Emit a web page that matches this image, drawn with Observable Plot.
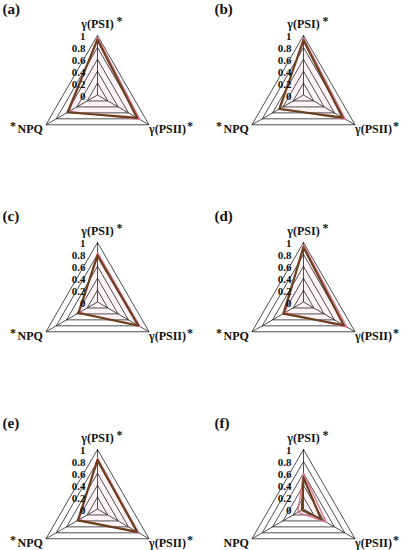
<!DOCTYPE html>
<html>
<head>
<meta charset="utf-8">
<script src="https://cdn.jsdelivr.net/npm/d3@7"></script>
<script src="https://cdn.jsdelivr.net/npm/@observablehq/plot@0.6"></script>
<style>
  html, body { margin: 0; padding: 0; background: #fff; }
  #chart { width: 403px; height: 550px; }
</style>
</head>
<body>
<div id="chart"></div>
<script>
// ---- data ----
const panels = ["a", "b", "c", "d", "e", "f"];
const panelCol = [0, 1, 0, 1, 0, 1];
const panelRow = [0, 0, 1, 1, 2, 2];
const axisNames = ["γ(PSI)", "γ(PSII)", "NPQ"];
const axisAngles = [90, -30, 210];
const brownPSI  = [0.93, 0.92, 0.78, 0.92, 0.82, 0.53];
const brownPSII = [0.77, 0.76, 0.79, 0.78, 0.77, 0.34];
const brownNPQ  = [0.58, 0.47, 0.37, 0.39, 0.38, 0.03];
const pinkPSI   = [0.97, 0.96, 0.83, 0.96, 0.86, 0.60];
const pinkPSII  = [0.82, 0.81, 0.83, 0.84, 0.80, 0.44];
const pinkNPQ   = [0.55, 0.45, 0.35, 0.36, 0.36, 0.11];
const sigPSI  = [true, true, true, true, true, true];
const sigPSII = [true, true, true, true, true, true];
const sigNPQ  = [true, true, true, true, true, false];
const levels = [0, 0.2, 0.4, 0.6, 0.8, 1];
const tickLabels = ["0", "0.2", "0.4", "0.6", "0.8", "1"];

// ---- derived tables ----
const rad = a => a * Math.PI / 180;
const px = (r, k) => r * Math.cos(rad(axisAngles[k]));
const py = (r, k) => r * Math.sin(rad(axisAngles[k]));

const grid = [];
const spokes = [];
const ticks = [];
const labels = [];
const series = [];
panels.forEach((p, i) => {
  const fx = panelCol[i], fy = panelRow[i];
  levels.filter(l => l > 0).forEach(l => {
    [0, 1, 2, 0].forEach(k => grid.push({fx, fy, key: p + l, x: px(l, k), y: py(l, k)}));
  });
  axisNames.forEach((n, k) => {
    spokes.push({fx, fy, x2: px(1, k), y2: py(1, k)});
    const sig = [sigPSI, sigPSII, sigNPQ][k][i];
    labels.push({fx, fy, k, name: n, sig, x: px(1, k), y: py(1, k)});
  });
  levels.forEach((l, j) => ticks.push({fx, fy, y: l, text: tickLabels[j]}));
  const sets = [
    ["brown", [brownPSI[i], brownPSII[i], brownNPQ[i]]],
    ["pink", [pinkPSI[i], pinkPSII[i], pinkNPQ[i]]]
  ];
  sets.forEach(([s, vals]) => {
    [0, 1, 2, 0].forEach(k => series.push({fx, fy, s, key: p + s, x: px(vals[k], k), y: py(vals[k], k)}));
  });
});
const panelLabels = panels.map((p, i) => ({fx: panelCol[i], fy: panelRow[i], text: "(" + p + ")"}));

const font = "'Liberation Serif', 'Times New Roman', serif";
const txt = {fontSize: 12, fontWeight: "bold", fill: "#111", fontFamily: font};
const tickTxt = {fontSize: 11, fontWeight: "bold", fill: "#111", fontFamily: font};
const panelTxt = {frameAnchor: "top-left", text: "text", dy: 3, textAnchor: "start", lineAnchor: "top", fontSize: 15, fontWeight: "bold", fill: "#111", fontFamily: font};

const chart = Plot.plot({
  width: 403,
  height: 550,
  marginLeft: 0,
  marginRight: 3,
  marginTop: 0,
  marginBottom: 0,
  x: {domain: [-1.63, 1.63], axis: null},
  y: {domain: [-0.697, 1.588], axis: null},
  fx: {axis: null, domain: [0, 1], paddingInner: 12 / 206, paddingOuter: 0},
  fy: {axis: null, domain: [0, 1, 2], paddingInner: 0.343, paddingOuter: 0},
  style: {fontFamily: font, background: "#fff"},
  marks: [
    Plot.line(series.filter(d => d.s === "pink"), {
      x: "x", y: "y", z: "key", fx: "fx", fy: "fy",
      fill: "#f4a6be", fillOpacity: 0.13, stroke: "none"
    }),
    Plot.line(grid, {x: "x", y: "y", z: "key", fx: "fx", fy: "fy", stroke: "#222", strokeWidth: 0.8}),
    Plot.link(spokes, {x1: 0, y1: 0, x2: "x2", y2: "y2", fx: "fx", fy: "fy", stroke: "#222", strokeWidth: 0.8}),
    Plot.line(series.filter(d => d.s === "pink"), {
      x: "x", y: "y", z: "key", fx: "fx", fy: "fy", stroke: "#e0708f", strokeWidth: 1.3
    }),
    Plot.line(series.filter(d => d.s === "brown"), {
      x: "x", y: "y", z: "key", fx: "fx", fy: "fy", stroke: "#6b3f1d", strokeWidth: 2.2
    }),
    Plot.text(ticks, {x: 0, y: "y", fx: "fx", fy: "fy", text: "text", dx: -12, dy: 1, textAnchor: "end", ...tickTxt}),
    // axis labels
    Plot.text(labels.filter(d => d.k === 0), {x: "x", y: "y", fx: "fx", fy: "fy", text: "name", dy: -11, textAnchor: "middle", ...txt}),
    Plot.text(labels.filter(d => d.k === 0 && d.sig), {x: "x", y: "y", fx: "fx", fy: "fy", text: () => "*", dx: 19, dy: -14, textAnchor: "start", ...txt}),
    Plot.text(labels.filter(d => d.k === 1), {x: "x", y: "y", fx: "fx", fy: "fy", text: "name", dx: 0, dy: 4, textAnchor: "start", ...txt}),
    Plot.text(labels.filter(d => d.k === 1 && d.sig), {x: "x", y: "y", fx: "fx", fy: "fy", text: () => "*", dx: 38, dy: 1, textAnchor: "start", ...txt}),
    Plot.text(labels.filter(d => d.k === 2), {x: "x", y: "y", fx: "fx", fy: "fy", text: "name", dx: -3, dy: 4, textAnchor: "end", ...txt}),
    Plot.text(labels.filter(d => d.k === 2 && d.sig), {x: "x", y: "y", fx: "fx", fy: "fy", text: () => "*", dx: -30, dy: 1, textAnchor: "end", ...txt}),
    Plot.text(panelLabels.filter(d => d.fx === 0), {fx: "fx", fy: "fy", dx: 2, ...panelTxt}),
    Plot.text(panelLabels.filter(d => d.fx === 1), {fx: "fx", fy: "fy", dx: 8, ...panelTxt})
  ]
});
document.getElementById("chart").appendChild(chart);
</script>
</body>
</html>
